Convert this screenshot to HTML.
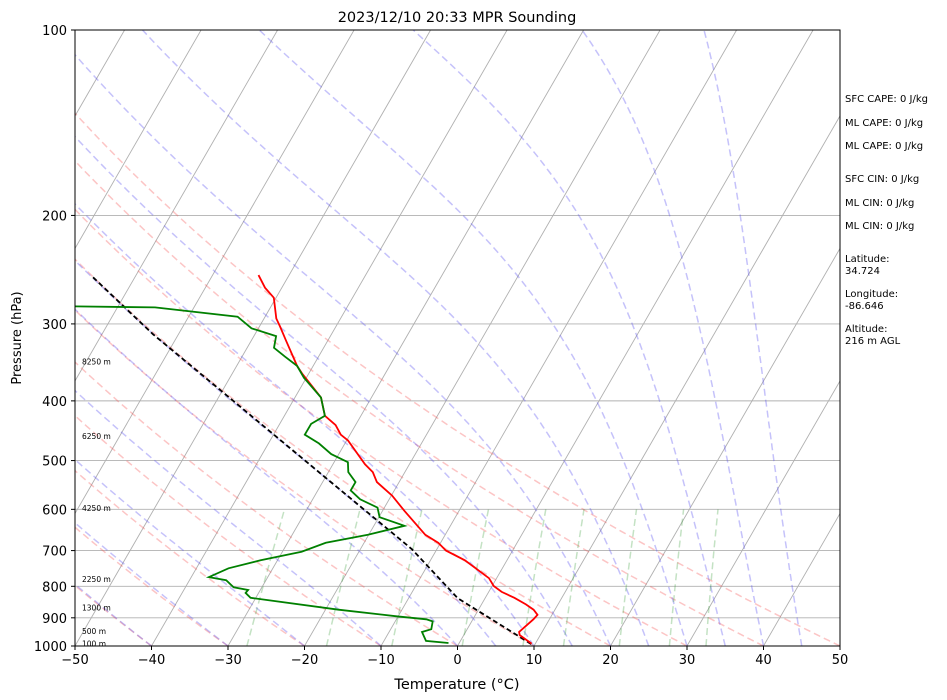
<!DOCTYPE html>
<html><head><meta charset="utf-8"><style>
body{margin:0;background:#fff;}
svg{display:block;font-family:"DejaVu Sans","Liberation Sans",sans-serif;}
</style></head><body>
<svg id="chart" width="947" height="700" viewBox="0 0 947 700">
<defs><clipPath id="plotclip"><rect x="75" y="30" width="765" height="616"/></clipPath></defs>
<text x="457" y="22" text-anchor="middle" font-size="14.5">2023/12/10 20:33 MPR Sounding</text>
<text x="457" y="689" text-anchor="middle" font-size="14.5">Temperature (°C)</text>
<text transform="translate(21,338) rotate(-90)" text-anchor="middle" font-size="13">Pressure (hPa)</text>
<g id="bg" clip-path="url(#plotclip)"></g>
<g id="series" clip-path="url(#plotclip)"></g>
<g id="axes"></g>
<g id="side" font-size="10"></g>
</svg>
<script>
const xTicks=[-50,-40,-30,-20,-10,0,10,20,30,40,50];
const pTicks=[100,200,300,400,500,600,700,800,900,1000];
const tempP=[991,960,949,905,890,873,856,835,817,799,776,726,700,680,660,604,570,542,522,507,464,454,438,423,395,361,351,319,303,294,272,262,250];
const tempT=[9.5,7.3,7.0,7.9,8.1,7.2,5.8,3.8,1.7,0.2,-1.0,-5.5,-8.7,-10.3,-12.6,-17.1,-19.9,-22.9,-24.2,-25.8,-29.8,-31.2,-32.6,-34.7,-36.6,-40.9,-42.1,-45.5,-47.3,-48.4,-50.3,-52.2,-54.0];
const dewP=[989,981,949,939,912,905,895,873,835,820,811,803,782,773,748,726,703,680,660,638,618,596,578,559,542,522,503,488,469,454,436,423,395,367,351,339,328,314,305,292,282,281];
const dewT=[-1.4,-4.5,-5.7,-4.7,-5.1,-6.1,-10.2,-18.3,-30.7,-31.7,-31.6,-33.7,-35.2,-37.7,-35.8,-32.2,-27.5,-25.0,-20.1,-16.0,-19.9,-20.9,-23.8,-25.7,-25.7,-27.4,-28.2,-31.0,-33.4,-35.9,-35.9,-34.7,-36.6,-40.3,-42.1,-44.4,-46.5,-47.1,-50.9,-53.6,-65.1,-75.6];
const parcelP=[993,836,696,530,385,312,251];
const parcelT=[9.5,-3.6,-13.3,-30.3,-50.2,-63.3,-75.7];
const heightLabels=["8250 m","6250 m","4250 m","2250 m","1300 m","500 m","100 m"];
const heightP=[345,456,597,779,866,946,990];
const infoLines=["SFC CAPE: 0 J/kg","ML CAPE: 0 J/kg","ML CAPE: 0 J/kg","SFC CIN: 0 J/kg","ML CIN: 0 J/kg","ML CIN: 0 J/kg","Latitude:","34.724","Longitude:","-86.646","Altitude:","216 m AGL"];
const infoY=[102,126,149,182,206,229,262,274,297,309,332,344];

const L=75,R=840,T0=30,B=646,SK=Math.tan(30*Math.PI/180);
const NS="http://www.w3.org/2000/svg";
function yP(p){return B-(Math.log10(1000)-Math.log10(p))*(B-T0);}
function xT(t,p){return L+(t+50)*(R-L)/100+(B-yP(p))*SK;}
function mk(tag,attrs,parent){const e=document.createElementNS(NS,tag);for(const k in attrs)e.setAttribute(k,attrs[k]);parent.appendChild(e);return e;}
const bg=document.getElementById('bg'),ser=document.getElementById('series'),ax=document.getElementById('axes'),side=document.getElementById('side');
function poly(ps,ts,parent,style,name){const pts=ps.map((p,i)=>xT(ts[i],p).toFixed(1)+','+yP(p).toFixed(1)).join(' ');const e=mk('polyline',Object.assign({points:pts,fill:'none'},style),parent);return e;}
for(const p of pTicks){if(p==100||p==1000)continue;const l=mk('line',{x1:L,x2:R,y1:yP(p),y2:yP(p),stroke:'#b0b0b0','stroke-width':0.9},bg);}
for(let t=-110;t<=50;t+=10){poly([1000,100],[t,t],bg,{stroke:'#b0b0b0','stroke-width':0.9},'isotherm');}
const pr=[];for(let p=1000;p>=100;p-=10)pr.push(p);
for(let th=-40;th<=50;th+=10){const ts=pr.map(p=>(th+273.15)*Math.pow(p/1000,0.2857)-273.15);poly(pr,ts,bg,{stroke:'rgba(245,90,90,0.35)','stroke-width':1.5,'stroke-dasharray':'7,4'},'dry-adiabat');}
function es(tc){return 6.112*Math.exp(17.67*tc/(tc+243.5));}
function dTdp(Tk,p){const e=es(Tk-273.15),rs=0.622*e/(p-e);return (287.04*Tk+2.501e6*rs)/(1005.7+2.501e6*2.501e6*rs*0.622/(287.04*Tk*Tk))/p;}
const moistT0=[-40,-30,-20,-10,0,5,10,15,20,25,30,35,40,45];
for(const t0 of moistT0){let Tk=t0+273.15,p=1000;const ps=[p],ts=[t0];while(p>100){const h=-5;const k1=dTdp(Tk,p),k2=dTdp(Tk+h*k1,p+h);Tk+=h*(k1+k2)/2;p+=h;ps.push(p);ts.push(Tk-273.15);}poly(ps,ts,bg,{stroke:'rgba(90,80,240,0.35)','stroke-width':1.5,'stroke-dasharray':'7,4'},'moist-adiabat');}
const wr=[0.0004,0.001,0.002,0.004,0.007,0.01,0.016,0.024,0.032];
const pm=[1000,900,800,700,600];
for(const w of wr){const ts=pm.map(p=>{const e=p*w/(0.622+w),l=Math.log(e/6.112);return 243.5*l/(17.67-l);});poly(pm,ts,bg,{stroke:'rgba(60,160,60,0.3)','stroke-width':1.5,'stroke-dasharray':'7,4'},'mixing-ratio-line');}
poly(parcelP,parcelT,ser,{stroke:'#000','stroke-width':1.8,'stroke-dasharray':'5,3'},'parcel-profile');
poly(tempP,tempT,ser,{stroke:'#ff0000','stroke-width':1.8},'temperature-line');
poly(dewP,dewT,ser,{stroke:'#008000','stroke-width':1.8},'dewpoint-line');
heightLabels.forEach((s,i)=>{const t=mk('text',{x:82,y:yP(heightP[i])+3,'font-size':7.5},ax);t.textContent=s;});
const fr=mk('rect',{x:L,y:T0,width:R-L,height:B-T0,fill:'none',stroke:'#000','stroke-width':1},ax);
for(const t of xTicks){const x=L+(t+50)*(R-L)/100;const l=mk('line',{x1:x,x2:x,y1:B,y2:B+4,stroke:'#000'},ax);const tx=mk('text',{x:x,y:B+18,'text-anchor':'middle','font-size':13},ax);tx.textContent=t<0?'\u2212'+(-t):String(t);}
for(const p of pTicks){const y=yP(p);const l=mk('line',{x1:L-4,x2:L,y1:y,y2:y,stroke:'#000'},ax);const tx=mk('text',{x:L-8,y:y+5,'text-anchor':'end','font-size':13},ax);tx.textContent=String(p);}
infoLines.forEach((s,i)=>{const t=mk('text',{x:845,y:infoY[i]},side);t.textContent=s;});
</script>
</body></html>
